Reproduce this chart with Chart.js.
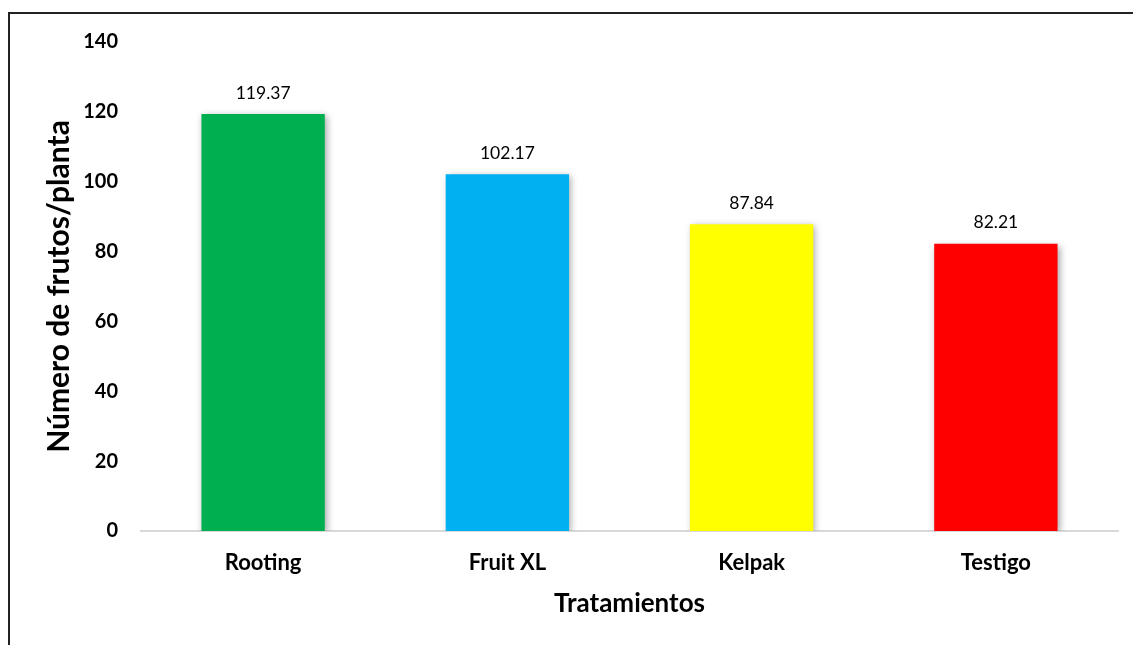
<!DOCTYPE html>
<html><head><meta charset="utf-8">
<script src="https://cdn.jsdelivr.net/npm/chart.js@4"></script>
<style>
html,body{margin:0;padding:0;background:#fff;overflow:hidden;}
#wrap{position:absolute;left:0;top:0;width:1133px;height:645px;}
#frame{position:absolute;left:8px;top:12px;width:1140px;height:650px;border-left:2px solid #222;border-top:2px solid #222;box-sizing:border-box;}
canvas{position:absolute;left:0;top:0;}
</style></head>
<body>
<div id="wrap"><div id="frame"></div><canvas id="c" width="1133" height="645"></canvas></div>
<script>
const categories = ["Rooting", "Fruit XL", "Kelpak", "Testigo"];
const values = [119.37, 102.17, 87.84, 82.21];
const barColors = ["#00B050", "#00B0F0", "#FFFF00", "#FF0000"];
const yTicks = [0, 20, 40, 60, 80, 100, 120, 140];
const yTitle = "Número de frutos/planta";
const xTitle = "Tratamientos";

const shadowPlugin = {
  id: 'shadow',
  beforeDatasetsDraw(chart) {
    const ctx = chart.ctx;
    ctx.save();
    ctx.shadowColor = 'rgba(0,0,0,0.35)';
    ctx.shadowBlur = 7;
    ctx.shadowOffsetX = 2;
    ctx.shadowOffsetY = 2;
  },
  afterDatasetsDraw(chart) {
    const ctx = chart.ctx;
    ctx.restore();
    const meta = chart.getDatasetMeta(0);
    ctx.save();
    ctx.font = '17.5px Lato';
    ctx.fillStyle = '#000';
    ctx.textAlign = 'center';
    ctx.textBaseline = 'middle';
    meta.data.forEach((bar, i) => {
      ctx.fillText(values[i].toFixed(2), bar.x, bar.y - 21);
    });
    ctx.restore();
  }
};

new Chart(document.getElementById('c'), {
  type: 'bar',
  data: {
    labels: categories,
    datasets: [{ data: values, backgroundColor: barColors, borderWidth: 0,
      barPercentage: 0.505, categoryPercentage: 1 }]
  },
  plugins: [shadowPlugin],
  options: {
    responsive: false,
    animation: false,
    layout: { padding: { left: 41, right: 15, top: 42, bottom: 26 } },
    plugins: { legend: { display: false }, tooltip: { enabled: false } },
    scales: {
      x: {
        afterFit(scale) { scale.height = 88; },
        grid: { display: false, drawTicks: false },
        border: { display: true, color: '#d9d9d9', width: 2 },
        ticks: { color: '#000', font: { family: 'Lato', size: 22, weight: 'bold' }, padding: 19 },
        title: { display: true, text: xTitle, color: '#000', font: { family: 'Lato', size: 26, weight: 'bold' }, padding: { top: 0, bottom: 0 } }
      },
      y: {
        min: 0, max: 140,
        afterBuildTicks(scale) { scale.ticks = yTicks.map(v => ({ value: v })); },
        afterFit(scale) { scale.width = 100; },
        grid: { display: false, drawTicks: false },
        border: { display: false },
        ticks: { color: '#000', font: { family: 'Lato', size: 20, weight: 'bold' }, padding: 23 },
        title: { display: true, text: yTitle, color: '#000', font: { family: 'Lato', size: 30, weight: 'bold' }, padding: { top: 0, bottom: 0 } }
      }
    }
  }
});
</script>
</body></html>
